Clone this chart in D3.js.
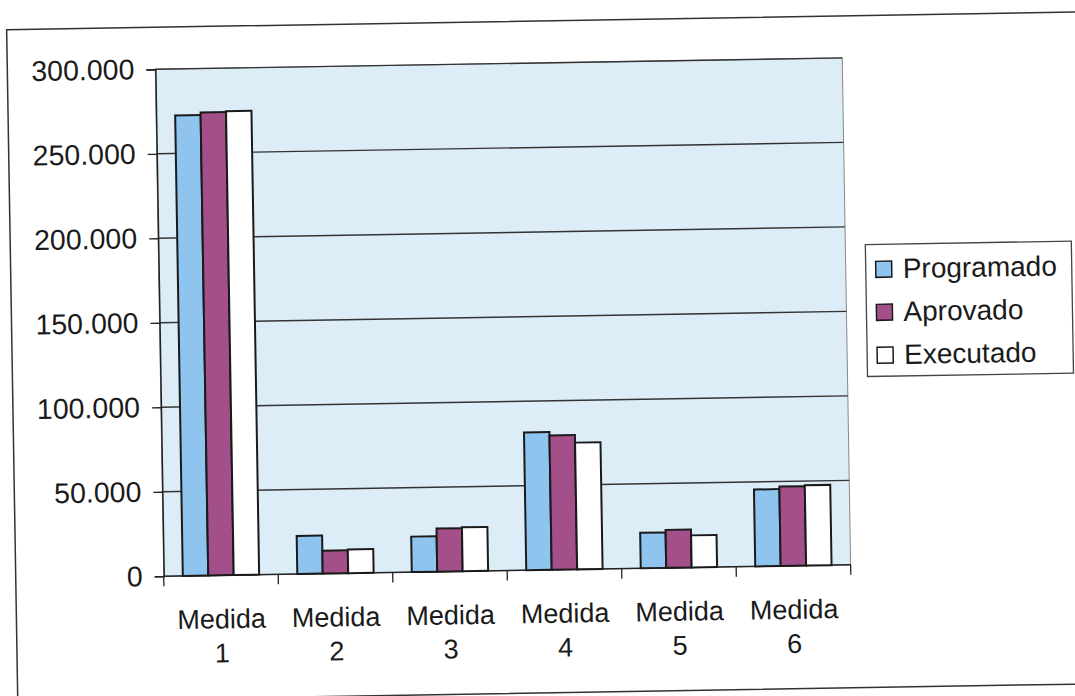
<!DOCTYPE html>
<html>
<head>
<meta charset="utf-8">
<script src="https://cdn.jsdelivr.net/npm/d3@7"></script>
<style>
  body { margin: 0; background: #ffffff; }
  svg { display: block; }
  .tickLabel, .catLabel, .legendText {
    font-family: "Liberation Sans", Arial, sans-serif;
    font-size: 27px;
    fill: #1a1a1a;
  }
  .tickLabel { font-size: 28.5px; }
  .legendText { font-size: 28px; }
</style>
</head>
<body>
<script>
// grouped bar chart, scanned page look (slightly rotated)
(function(){
  // *************************************************** //
  // data
  var categories = ["Medida 1", "Medida 2", "Medida 3", "Medida 4", "Medida 5", "Medida 6"];
  var seriesNames = ["Programado", "Aprovado", "Executado"];
  var programado = [272500, 22500, 21000, 81500, 21000, 45500];
  var aprovado = [274000, 13500, 25500, 79500, 22500, 47000];
  var executado = [274500, 14000, 26000, 75000, 19000, 47500];
  var yTicks = [0, 50000, 100000, 150000, 200000, 250000, 300000];
  var yTickLabels = ["0", "50.000", "100.000", "150.000", "200.000", "250.000", "300.000"];

  var seriesValues = [programado, aprovado, executado];
  var seriesColors = ["#8fc4ef", "#a3508a", "#ffffff"];

  window.onload = setChart();

  // *************************************************** //
  function setChart(){
    var width = 1075,
        height = 696;

    // plot frame
    var plotLeft = 160, plotRight = 847,
        plotTop = 63, plotBottom = 570;

    var svg = d3.select("body")
      .append("svg")
      .attr("width", width)
      .attr("height", height);

    // the scan is turned by about one degree
    var page = svg.append("g")
      .attr("transform", "rotate(-0.95, 537, 348)");

    // outer chart border
    page.append("rect")
      .attr("x", 12)
      .attr("y", 21)
      .attr("width", 1075)
      .attr("height", 672)
      .attr("fill", "none")
      .attr("stroke", "#333")
      .attr("stroke-width", 1.5);

    // scales
    var x0 = d3.scaleBand()
      .domain(categories)
      .range([plotLeft, plotRight])
      .padding(0);

    // gap width 150% -> outer padding 0.75 of a bar per side
    var x1 = d3.scaleBand()
      .domain(seriesNames)
      .range([0, x0.bandwidth()])
      .paddingInner(0)
      .paddingOuter(0.75);

    var y = d3.scaleLinear()
      .domain([0, 300000])
      .range([plotBottom, plotTop]);

    // plot area background
    page.append("rect")
      .attr("x", plotLeft)
      .attr("y", plotTop)
      .attr("width", plotRight - plotLeft)
      .attr("height", plotBottom - plotTop)
      .attr("fill", "#ddedf8")
      .attr("stroke", "#888")
      .attr("stroke-width", 1);

    // gridlines
    page.selectAll(".gridLine")
      .data(yTicks.slice(1))
      .enter()
      .append("line")
      .attr("class", "gridLine")
      .attr("x1", plotLeft)
      .attr("x2", plotRight)
      .attr("y1", function(d){ return y(d); })
      .attr("y2", function(d){ return y(d); })
      .attr("stroke", "#333")
      .attr("stroke-width", 1.4);

    // y axis
    var yAxis = d3.axisLeft(y)
      .tickValues(yTicks)
      .tickSize(9)
      .tickPadding(12)
      .tickFormat(function(d, i){ return yTickLabels[i]; });

    var yAxisG = page.append("g")
      .attr("transform", "translate(" + plotLeft + ",0)")
      .call(yAxis);
    yAxisG.select(".domain").attr("stroke", "#222").attr("stroke-width", 1.5);
    yAxisG.selectAll(".tick line").attr("stroke", "#222").attr("stroke-width", 1.3);
    yAxisG.selectAll(".tick text")
      .attr("class", "tickLabel")
      .attr("font-family", null)
      .attr("font-size", null)
      .attr("fill", null);

    // x axis line and tick marks between categories
    page.append("line")
      .attr("x1", plotLeft)
      .attr("x2", plotRight)
      .attr("y1", plotBottom)
      .attr("y2", plotBottom)
      .attr("stroke", "#222")
      .attr("stroke-width", 1.5);

    var boundaries = categories.map(function(c){ return x0(c); });
    boundaries.push(plotRight);
    page.selectAll(".xTick")
      .data(boundaries)
      .enter()
      .append("line")
      .attr("class", "xTick")
      .attr("x1", function(d){ return d; })
      .attr("x2", function(d){ return d; })
      .attr("y1", plotBottom)
      .attr("y2", plotBottom + 10)
      .attr("stroke", "#222")
      .attr("stroke-width", 1.3);

    // category labels on two lines
    var catLabels = page.selectAll(".catLabel")
      .data(categories)
      .enter()
      .append("text")
      .attr("class", "catLabel")
      .attr("text-anchor", "middle")
      .attr("x", function(d){ return x0(d) + x0.bandwidth() / 2; })
      .attr("y", plotBottom + 53);
    catLabels.append("tspan")
      .text(function(d){ return d.split(" ")[0]; });
    catLabels.append("tspan")
      .attr("x", function(d){ return x0(d) + x0.bandwidth() / 2; })
      .attr("dy", 34)
      .text(function(d){ return d.split(" ")[1]; });

    // bars
    var groups = page.selectAll(".group")
      .data(categories)
      .enter()
      .append("g")
      .attr("class", "group")
      .attr("transform", function(d){ return "translate(" + x0(d) + ",0)"; });

    groups.selectAll("rect")
      .data(function(d, i){
        return seriesNames.map(function(s, k){
          return { series: s, value: seriesValues[k][i], color: seriesColors[k] };
        });
      })
      .enter()
      .append("rect")
      .attr("x", function(d){ return x1(d.series); })
      .attr("width", x1.bandwidth())
      .attr("y", function(d){ return y(d.value); })
      .attr("height", function(d){ return y(0) - y(d.value); })
      .attr("fill", function(d){ return d.color; })
      .attr("stroke", "#1a1a1a")
      .attr("stroke-width", 2);

    // legend
    var legend = page.append("g")
      .attr("transform", "translate(867,250)");
    legend.append("rect")
      .attr("width", 206)
      .attr("height", 132)
      .attr("fill", "#ffffff")
      .attr("stroke", "#444")
      .attr("stroke-width", 1.3);

    var items = legend.selectAll(".legendItem")
      .data(seriesNames)
      .enter()
      .append("g")
      .attr("class", "legendItem")
      .attr("transform", function(d, i){ return "translate(10," + (17 + i * 43) + ")"; });
    items.append("rect")
      .attr("width", 16)
      .attr("height", 16)
      .attr("fill", function(d, i){ return seriesColors[i]; })
      .attr("stroke", "#1a1a1a")
      .attr("stroke-width", 1.5);
    items.append("text")
      .attr("class", "legendText")
      .attr("x", 27)
      .attr("y", 17)
      .text(function(d){ return d; });
  };
})();
</script>
</body>
</html>
